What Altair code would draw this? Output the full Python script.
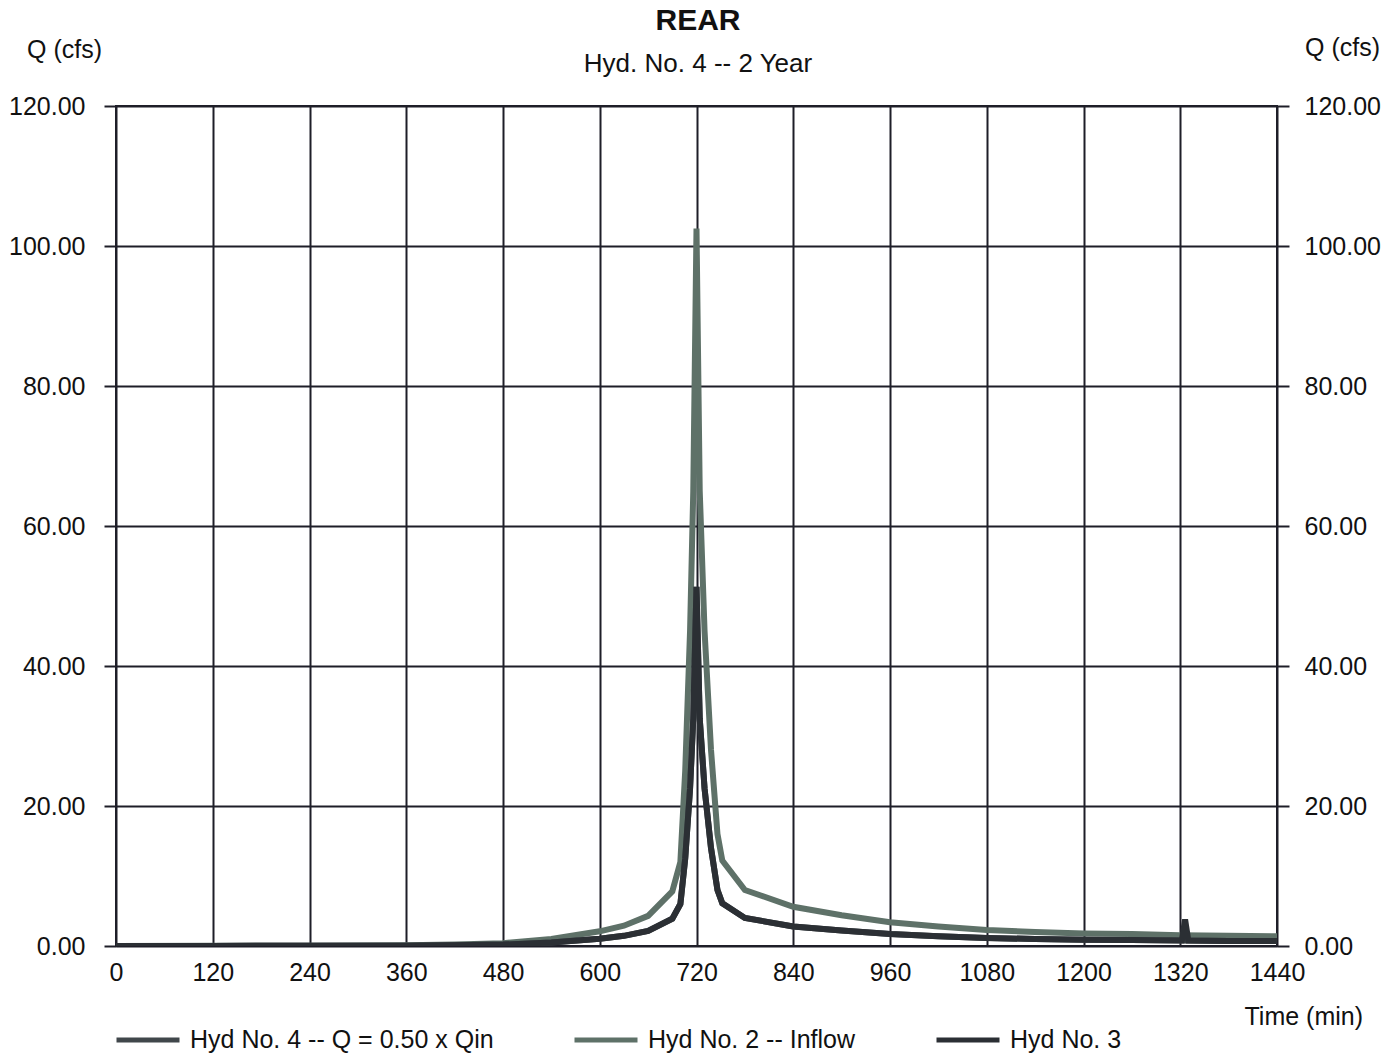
import altair as alt
import pandas as pd

FONT = "Liberation Sans"

# Hyd No. 2 -- Inflow
t_in = [0, 120, 240, 360, 420, 480, 540, 600, 630, 660, 690, 700, 706, 712, 716, 720,
        724, 730, 738, 746, 752, 780, 840, 900, 960, 1020, 1080, 1140, 1200, 1260, 1320, 1380, 1440]
q_in = [0.0, 0.02, 0.05, 0.1, 0.2, 0.4, 1.0, 2.1, 2.9, 4.3, 7.8, 12.0, 25.0, 45.0, 65.0, 102.5,
        65.0, 45.0, 28.0, 16.0, 12.2, 8.0, 5.6, 4.4, 3.4, 2.8, 2.3, 2.0, 1.8, 1.7, 1.55, 1.45, 1.4]

# Hyd No. 4 -- Q = 0.50 x Qin
t_h4 = [0, 120, 240, 360, 420, 480, 540, 600, 630, 660, 690, 700, 706, 712, 716, 720,
        724, 730, 738, 746, 752, 780, 840, 900, 960, 1020, 1080, 1140, 1200, 1260, 1320, 1380, 1440]
q_h4 = [0.0, 0.01, 0.03, 0.05, 0.1, 0.2, 0.5, 1.05, 1.45, 2.15, 3.9, 6.0, 12.5, 22.5, 32.5, 51.3,
        32.5, 22.5, 14.0, 8.0, 6.1, 4.0, 2.8, 2.2, 1.7, 1.4, 1.15, 1.0, 0.9, 0.85, 0.78, 0.72, 0.7]

# Hyd No. 3
t_h3 = [0, 120, 240, 360, 420, 480, 540, 600, 630, 660, 690, 700, 706, 712, 716, 720,
        724, 730, 738, 746, 752, 780, 840, 900, 960, 1020, 1080, 1140, 1200, 1260, 1322, 1326, 1330, 1380, 1440]
q_h3 = [0.0, 0.01, 0.03, 0.05, 0.1, 0.2, 0.5, 1.05, 1.45, 2.15, 3.9, 6.0, 12.5, 22.5, 32.5, 51.3,
        32.5, 22.5, 14.0, 8.0, 6.1, 4.0, 2.8, 2.2, 1.7, 1.4, 1.15, 1.0, 0.9, 0.85, 0.78, 3.8, 0.78, 0.72, 0.7]

names = ["Hyd No. 4 -- Q = 0.50 x Qin", "Hyd No. 2 -- Inflow", "Hyd No. 3"]
colors = ["#40474b", "#5e7168", "#2b2f34"]
draw_order = {names[1]: 0, names[0]: 1, names[2]: 2}

x_ticks = [0, 120, 240, 360, 480, 600, 720, 840, 960, 1080, 1200, 1320, 1440]
y_ticks = [0, 20, 40, 60, 80, 100, 120]

rows = []
for name, ts, qs in [(names[1], t_in, q_in), (names[0], t_h4, q_h4), (names[2], t_h3, q_h3)]:
    for t, q in zip(ts, qs):
        rows.append({"series": name, "t": t, "q": q, "ord": draw_order[name]})
df = pd.DataFrame(rows)

GRID = "#1e1e28"
FS = 25

x_scale = alt.Scale(domain=[0, 1440], nice=False, zero=False)
x_axis = alt.Axis(values=x_ticks, grid=True, gridColor=GRID, gridWidth=2, gridOpacity=1,
                  domain=False, ticks=False, tickSize=0, labelPadding=14, labelFontSize=FS,
                  labelFont=FONT, labelColor="#111", title=None, labelFlush=False,
                  labelExpr="format(datum.value, 'd')")
x_enc = alt.X("t:Q", scale=x_scale, axis=x_axis)

y_scale = alt.Scale(domain=[0, 120], nice=False, zero=True)

lines = alt.Chart(df).mark_line(strokeWidth=6, strokeJoin="miter", clip=True).encode(
    x=x_enc,
    y=alt.Y("q:Q", scale=y_scale,
            axis=alt.Axis(values=y_ticks, orient="left", grid=True, gridColor=GRID, gridWidth=2,
                          gridOpacity=1, domain=False, ticks=True, tickSize=12, tickColor=GRID,
                          tickWidth=2, labelPadding=19, labelFontSize=FS, labelFont=FONT,
                          labelColor="#111", labelExpr="format(datum.value, '.2f')", title=None)),
    color=alt.Color("series:N", scale=alt.Scale(domain=names, range=colors),
                    legend=alt.Legend(orient="none", legendX=-2, legendY=900, direction="horizontal",
                                      title=None, symbolType="stroke", symbolSize=3969,
                                      symbolStrokeWidth=5, labelFontSize=FS, labelFont=FONT,
                                      labelColor="#111", columnPadding=70, labelOffset=8,
                                      labelLimit=500)),
    detail="series:N",
    order=alt.Order("ord:Q"),
)

right_axis = alt.Chart(df).mark_line(opacity=0).encode(
    x=x_enc,
    y=alt.Y("q:Q", scale=y_scale,
            axis=alt.Axis(values=y_ticks, orient="right", grid=False, domain=False, ticks=True,
                          tickSize=12, tickColor=GRID, tickWidth=2, labelPadding=15,
                          labelFontSize=FS, labelFont=FONT, labelColor="#111",
                          labelExpr="format(datum.value, '.2f')", title=None)),
    detail="series:N",
)

txt = pd.DataFrame({"d": [0]})

def label(text, x, y, size=FS, bold=False, align="left"):
    return alt.Chart(txt).mark_text(text=text, fontSize=size, font=FONT, align=align,
                                    baseline="alphabetic", color="#111",
                                    fontWeight="bold" if bold else "normal").encode(
        x=alt.value(x), y=alt.value(y))

title = label("REAR", 582, -76, size=30, bold=True, align="center")
subtitle = label("Hyd. No. 4 -- 2 Year", 582, -34, size=26, align="center")
q_left = label("Q (cfs)", -89, -48)
q_right = label("Q (cfs)", 1189, -50)
time_lbl = label("Time (min)", 1247, 919, align="right")

chart = alt.layer(lines, right_axis, title, subtitle, q_left, q_right, time_lbl).resolve_scale(
    y="independent"
).properties(
    width=1161, height=840,
    autosize=alt.AutoSizeParams(type="none"),
    padding={"left": 116, "top": 106, "right": 122, "bottom": 107},
    background="white",
).configure_view(stroke=GRID, strokeWidth=2)

chart.save("out.html", embed_options={"renderer": "svg", "actions": False})
